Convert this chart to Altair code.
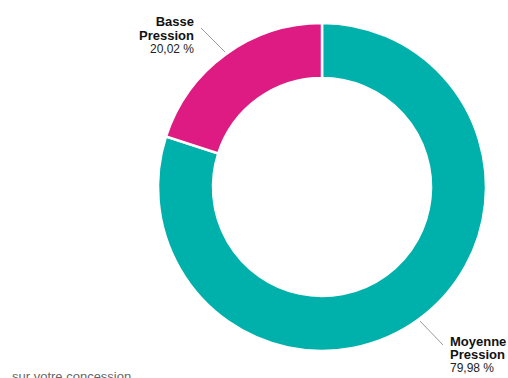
import altair as alt
import pandas as pd

categories = ["Moyenne Pression", "Basse Pression"]
values = [79.98, 20.02]
name_lines = [["Moyenne", "Pression"], ["Basse", "Pression"]]
pct_labels = ["79,98 %", "20,02 %"]
colors = ["#00B1AB", "#DE1B82"]
footer = "sur votre concession"

df = pd.DataFrame({
    "cat": categories,
    "val": values,
    "order": [0, 1],
})

FONT = "Liberation Sans"
CX, CY = 322, 187

donut = alt.Chart(df).mark_arc(
    outerRadius=164, innerRadius=109, stroke="white", strokeWidth=2.5
).encode(
    theta=alt.Theta("val:Q", stack=True),
    order=alt.Order("order:Q"),
    color=alt.Color("cat:N", scale=alt.Scale(domain=categories, range=colors), legend=None),
    x=alt.value(CX), y=alt.value(CY),
)

base = alt.Chart(pd.DataFrame({"d": [0]}))

leader_basse = base.mark_rule(color="#9a9aa0", strokeWidth=1).encode(
    x=alt.value(201), y=alt.value(28), x2=alt.value(225), y2=alt.value(52))
leader_moy = base.mark_rule(color="#9a9aa0", strokeWidth=1).encode(
    x=alt.value(420), y=alt.value(321), x2=alt.value(443), y2=alt.value(345))

basse_name = base.mark_text(
    text=name_lines[1], align="right", baseline="alphabetic", font=FONT,
    fontSize=13, fontWeight="bold", lineHeight=13.5, color="#111"
).encode(x=alt.value(194), y=alt.value(26))
basse_pct = base.mark_text(
    text=pct_labels[1], align="right", baseline="alphabetic", font=FONT,
    fontSize=12, color="#222"
).encode(x=alt.value(194), y=alt.value(52.5))

moy_name = base.mark_text(
    text=name_lines[0], align="left", baseline="alphabetic", font=FONT,
    fontSize=13, fontWeight="bold", lineHeight=12.5, color="#111"
).encode(x=alt.value(450), y=alt.value(346))
moy_pct = base.mark_text(
    text=pct_labels[0], align="left", baseline="alphabetic", font=FONT,
    fontSize=12, color="#222"
).encode(x=alt.value(450), y=alt.value(371.5))

foot = base.mark_text(
    text=footer, align="left", baseline="alphabetic", font=FONT,
    fontSize=13, color="#666"
).encode(x=alt.value(12), y=alt.value(381))

chart = alt.layer(
    donut, leader_basse, leader_moy, basse_name, basse_pct, moy_name, moy_pct, foot
).properties(
    width=508, height=378, padding=0,
    autosize=alt.AutoSizeParams(type="none"),
).configure_view(stroke=None)

chart.save("out.html", embed_options={"renderer": "svg", "actions": False})
